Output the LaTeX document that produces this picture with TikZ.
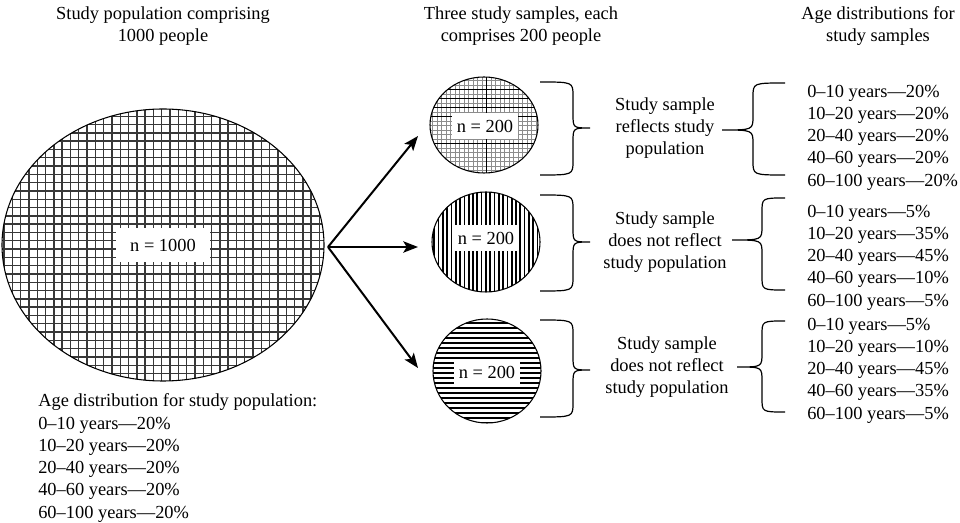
\documentclass[tikz,border=0pt]{standalone}
\usepackage{fontspec}
\setmainfont{Liberation Serif}
\usetikzlibrary{arrows.meta}

\tikzset{
  txt/.style={font=\fontsize{13.8}{16.7}\selectfont, inner sep=0pt, align=center},
  agelist/.style={txt, align=left, anchor=west},
  countbox/.style={txt, fill=white, minimum width=#1, minimum height=20pt},
  hatch/.style={line width=1.05pt, black!78},
  fork/.style={line width=1.5pt, -{Stealth[length=11pt,width=8.5pt,inset=2.5pt]}},
  curly/.style={line width=0.9pt}
}

\begin{document}
\begin{tikzpicture}[x=0.75pt,y=-0.75pt]
\useasboundingbox (0,0) rectangle (960,523);

% headers
\node[txt] (hpop) at (163,26) {Study population comprising\\1000 people};
\node[txt] (hsample) at (521,26) {Three study samples, each\\comprises 200 people};
\node[txt] (hage) at (878,26) {Age distributions for\\study samples};

% study population
\coordinate (P) at (163,245);
\begin{scope}
\clip (P) ellipse [x radius=120.75pt, y radius=102pt];
\foreach \x in {4,12.3,...,330}
    \draw[hatch] (\x,100) -- (\x,390);
\foreach \y in {108,116.3,...,385}
    \draw[hatch] (0,\y) -- (330,\y);
\end{scope}
\draw[line width=0.8pt] (P) ellipse [x radius=120.75pt, y radius=102pt];
\node[countbox=70pt, minimum height=25.5pt] (npop) at (P) {n = 1000};

\node[agelist] (agepop) at (38,458) {Age distribution for study population:\\0–10 years—20\%\\10–20 years—20\%\\20–40 years—20\%\\40–60 years—20\%\\60–100 years—20\%};

% three samples
\coordinate (S1) at (484,125);
\coordinate (S2) at (486,242);
\coordinate (S3) at (487,371);

\begin{scope}
\clip (S1) ellipse [x radius=40.5pt, y radius=36pt];
\foreach \x in {428,432.5,...,542}
    \draw[black!45, line width=0.5pt] (\x,75) -- (\x,175);
\foreach \y in {76,80.5,...,175}
    \draw[black!45, line width=0.5pt] (428,\y) -- (542,\y);
\foreach \y in {89.5,98.5,107.5,116.5,143.5}
    \draw[line width=0.8pt] (428,\y) -- (542,\y);
\draw[line width=0.8pt] (486.5,75) -- (486.5,175);
\end{scope}

\begin{scope}
\clip (S2) ellipse [x radius=40.5pt, y radius=37.5pt];
\foreach \x in {430,434.3,...,545}
    \draw[line width=1.3pt] (\x,188) -- (\x,296);
\end{scope}

\begin{scope}
\clip (S3) ellipse [x radius=40.5pt, y radius=39pt];
\foreach \y in {318,323,...,426}
    \draw[line width=1.1pt] (428,\y) -- (546,\y);
\end{scope}

\foreach \v/\rx/\ry in {S1/40.5pt/36pt, S2/40.5pt/37.5pt, S3/40.5pt/39pt}
{
    \draw[line width=0.8pt] (\v) ellipse [x radius=\rx, y radius=\ry];
}

\node[countbox=50pt] (n1) at (485,126) {n = 200};
\node[countbox=50pt] (n2) at (486,238) {n = 200};
\node[countbox=50pt] (n3) at (487,372) {n = 200};

% arrows from population to samples
\coordinate (fork) at (328,247);
\coordinate (t1) at (418,136);
\coordinate (t2) at (418,247);
\coordinate (t3) at (418,368);
\foreach \t in {t1,t2,t3}
{
    \draw[fork] (fork) -- (\t);
}

% braces
\foreach \ya/\ym/\yb in {82/128/175, 195/242/291, 320/370/417}
{
    \draw[curly] (540,\ya) .. controls (573,\ya) .. (573,\ya+14) -- (573,\ym-14)
        .. controls (573,\ym) .. (590,\ym) .. controls (573,\ym) .. (573,\ym+14)
        -- (573,\yb-14) .. controls (573,\yb) .. (540,\yb);
}
\foreach \ya/\ym/\yb/\xv/\xt in {83/130/175/753/722, 198/240/290/762/732, 321/367/412/762/737}
{
    \draw[curly] (785,\ya) .. controls (\xv,\ya) .. (\xv,\ya+14) -- (\xv,\ym-14)
        .. controls (\xv,\ym) .. (\xt,\ym) .. controls (\xv,\ym) .. (\xv,\ym+14)
        -- (\xv,\yb-14) .. controls (\xv,\yb) .. (785,\yb);
}

% sample verdicts
\node[txt] (why1) at (665,128) {Study sample\\reflects study\\population};
\node[txt] (why2) at (665,242) {Study sample\\does not reflect\\study population};
\node[txt] (why3) at (667,367) {Study sample\\does not reflect\\study population};

% age distributions
\node[agelist] (age1) at (807,137.5) {0–10 years—20\%\\10–20 years—20\%\\20–40 years—20\%\\40–60 years—20\%\\60–100 years—20\%};
\node[agelist] (age2) at (807,257.5) {0–10 years—5\%\\10–20 years—35\%\\20–40 years—45\%\\40–60 years—10\%\\60–100 years—5\%};
\node[agelist] (age3) at (807,370.5) {0–10 years—5\%\\10–20 years—10\%\\20–40 years—45\%\\40–60 years—35\%\\60–100 years—5\%};

\end{tikzpicture}
\end{document}
